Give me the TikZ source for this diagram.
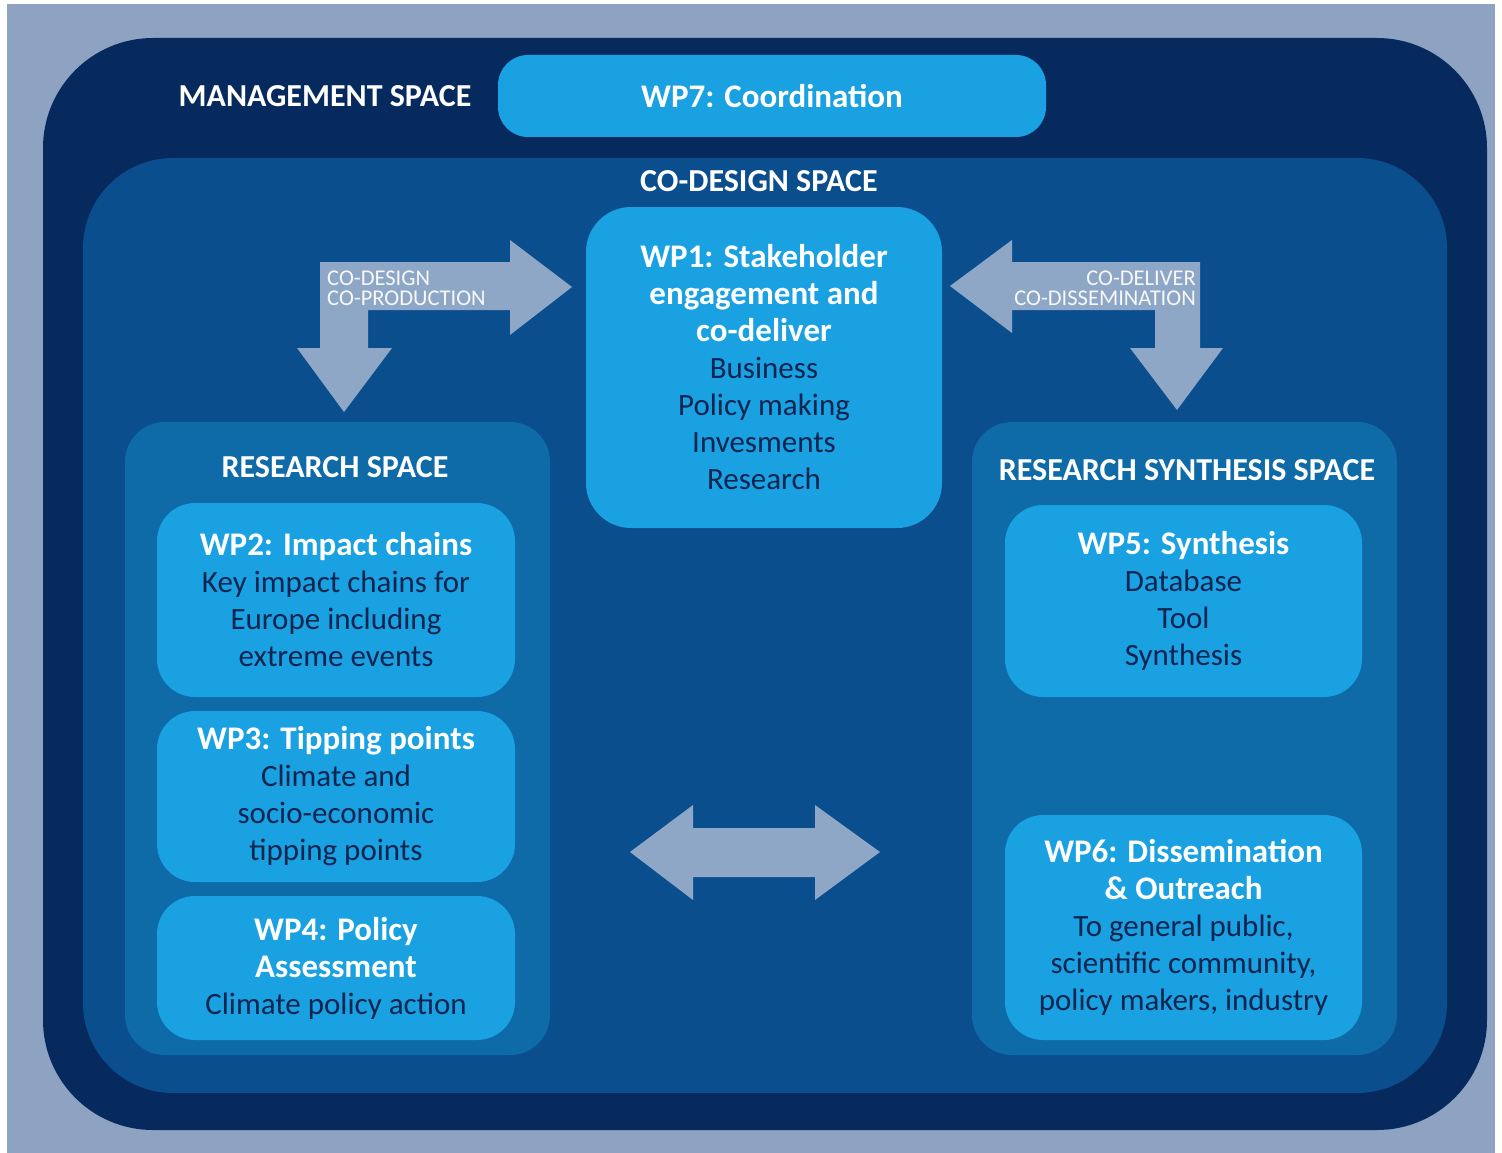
\documentclass[tikz,border=0pt]{standalone}
\usepackage{fontspec}
\setmainfont{Carlito}
\definecolor{bglight}{HTML}{8DA3C1}
\definecolor{navy}{HTML}{072A5E}
\definecolor{codesign}{HTML}{0A4E8E}
\definecolor{research}{HTML}{0E6BA8}
\definecolor{boxblue}{HTML}{19A1E1}
\definecolor{arrowgray}{HTML}{8FA7C6}
\definecolor{textdark}{HTML}{0B2550}
\newcommand\wphead[1]{\textcolor{white}{\bfseries\fontsize{33}{37}\selectfont #1}}
\begin{document}
\begin{tikzpicture}[x=1pt,y=-1pt,
  spacebox/.style={rounded corners=#1, inner sep=0pt, draw=none},
  wpbox/.style={fill=boxblue, rounded corners=38pt, inner sep=0pt, align=center,
    text=textdark, font=\fontsize{31}{37}\selectfont},
  spacetitle/.style={text=white, inner sep=0pt, font=\bfseries\fontsize{32}{34}\selectfont},
  arrowlabel/.style={text=white!92!arrowgray, inner sep=0pt, font=\fontsize{22.5}{24}\selectfont},
  blockarrow/.style={fill=arrowgray, draw=none}]
\fill[white] (0,0) rectangle (1502,1153);
\useasboundingbox (0,0) rectangle (1502,1153);
\fill[bglight] (7,4) rectangle (1495,1153);

% spaces
\node[spacebox=110pt, fill=navy, minimum width=1444pt, minimum height=1092pt] (mgmt) at (765,584) {};
\node[spacebox=90pt, fill=codesign, minimum width=1364pt, minimum height=935pt] (codes) at (765,625.5) {};
\node[spacebox=40pt, fill=research, minimum width=425pt, minimum height=633pt] (rspace) at (337.5,738.5) {};
\node[spacebox=40pt, fill=research, minimum width=425pt, minimum height=633pt] (sspace) at (1184.5,738.5) {};

% titles
\node[spacetitle] (mgmtt) at (325,96) {MANAGEMENT SPACE};
\node[spacetitle] (codest) at (759,181) {CO-DESIGN SPACE};
\node[spacetitle] (rspacet) at (335,467) {RESEARCH SPACE};
\node[spacetitle] (sspacet) at (1187,470) {RESEARCH SYNTHESIS SPACE};

% work packages
\node[wpbox, rounded corners=30pt, minimum width=548pt, minimum height=82pt] (wp7) at (772,96) {\wphead{WP7: Coordination}};
\node[wpbox, rounded corners=45pt, minimum width=356pt, minimum height=321pt] (wp1) at (764,367.5)
  {\wphead{WP1: Stakeholder}\\\wphead{engagement and}\\\wphead{co-deliver}\\Business\\Policy making\\Invesments\\Research};
\node[wpbox, minimum width=358pt, minimum height=194pt] (wp2) at (336,600)
  {\wphead{WP2: Impact chains}\\Key impact chains for\\Europe including\\extreme events};
\node[wpbox, minimum width=358pt, minimum height=171pt] (wp3) at (336,796.5)
  {\wphead{WP3: Tipping points}\\Climate and\\socio-economic\\tipping points};
\node[wpbox, minimum width=358pt, minimum height=144pt] (wp4) at (336,968)
  {\wphead{WP4: Policy}\\\wphead{Assessment}\\Climate policy action};
\node[wpbox, minimum width=357pt, minimum height=192pt] (wp5) at (1183.5,601)
  {\wphead{WP5: Synthesis}\\Database\\Tool\\Synthesis};
\node[wpbox, minimum width=357pt, minimum height=225pt] (wp6) at (1183.5,927.5)
  {\wphead{WP6: Dissemination}\\\wphead{\& Outreach}\\To general public,\\scientific community,\\policy makers, industry};

% block arrows
\fill[blockarrow] (320,262) -- (510,262) -- (510,240) -- (572,287) -- (510,335) -- (510,310)
  -- (368,310) -- (368,348) -- (392,348) -- (344,412) -- (297,348) -- (320,348) -- cycle;
\fill[blockarrow] (1200,262) -- (1012,262) -- (1012,240) -- (950,286) -- (1012,333) -- (1012,310)
  -- (1155,310) -- (1155,348) -- (1130,348) -- (1177,410) -- (1223,348) -- (1200,348) -- cycle;
\fill[blockarrow] (630,852) -- (693,805) -- (693,828) -- (815,828) -- (815,805) -- (880,852)
  -- (815,900) -- (815,877) -- (693,877) -- (693,900) -- cycle;

\node[arrowlabel, anchor=base west] (lblL1) at (327,285) {CO-DESIGN};
\node[arrowlabel, anchor=base west] (lblL2) at (327,305) {CO-PRODUCTION};
\node[arrowlabel, anchor=base east] (lblR1) at (1196,285) {CO-DELIVER};
\node[arrowlabel, anchor=base east] (lblR2) at (1196,305) {CO-DISSEMINATION};
\end{tikzpicture}
\end{document}
